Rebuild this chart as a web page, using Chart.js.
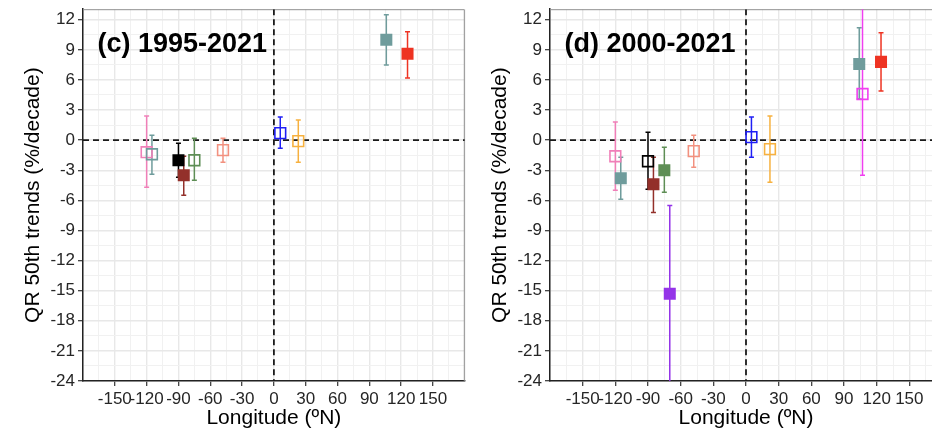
<!DOCTYPE html>
<html>
<head>
<meta charset="utf-8">
<script src="https://cdn.jsdelivr.net/npm/chart.js"></script>
<style>
  html, body { margin: 0; padding: 0; background: #fff; overflow: hidden; }
  #wrap { position: relative; width: 932px; height: 435px; overflow: hidden; }
  canvas { position: absolute; top: 0; }
  #panelC { left: 0; }
  #panelD { left: 474px; }
</style>
</head>
<body>
<div id="wrap">
  <canvas id="panelC" width="474" height="435"></canvas>
  <canvas id="panelD" width="480" height="435"></canvas>
</div>
<script>
// station colours
const PINK = '#f07fb8', TEAL = '#6f9c9c', BLACK = '#000000', BROWN = '#93302a',
      GREEN = '#5e8e55', SALMON = '#f2917f', BLUE = '#1f1ff5', ORANGE = '#f7b13f',
      RED = '#ee3322', PURPLE = '#9434e8', MAGENTA = '#f03ff0';

// (c) 1995-2021
const lonC   = [-120, -115, -90, -85, -75, -48, 6, 23, 106, 126];
const midC   = [-1.2, -1.4, -2.0, -3.5, -2.0, -1.0, 0.7, -0.1, 10.0, 8.6];
const loC    = [-4.7, -3.4, -3.7, -5.5, -4.0, -2.2, -0.8, -2.2, 7.5, 6.2];
const hiC    = [2.4, 0.5, -0.3, -1.6, 0.2, 0.2, 2.3, 2.0, 12.5, 10.8];
const fillC  = [false, false, true, true, false, false, false, false, true, true];
const colorC = [PINK, TEAL, BLACK, BROWN, GREEN, SALMON, BLUE, ORANGE, TEAL, RED];

// (d) 2000-2021
const lonD   = [-120, -115, -90, -85, -75, -48, -70, 5, 22, 104, 107, 124];
const midD   = [-1.6, -3.8, -2.1, -4.4, -3.0, -1.1, -15.3, 0.3, -0.9, 7.6, 4.6, 7.8];
const loD    = [-5.0, -5.9, -4.9, -7.2, -5.2, -2.7, -26.0, -1.7, -4.2, 4.1, -3.5, 4.9];
const hiD    = [1.8, -1.7, 0.8, -1.7, -0.7, 0.5, -6.5, 2.3, 2.4, 11.2, 14.0, 10.7];
const fillD  = [false, true, false, true, true, false, true, false, false, true, false, true];
const colorD = [PINK, TEAL, BLACK, BROWN, GREEN, SALMON, PURPLE, BLUE, ORANGE, TEAL, MAGENTA, RED];

// axis ticks (labelled ones); grid lines also run halfway between them
const xTicks = [-150, -120, -90, -60, -30, 0, 30, 60, 90, 120, 150];
const yTicks = [-24, -21, -18, -15, -12, -9, -6, -3, 0, 3, 6, 9, 12];

Chart.defaults.font.family = "'Liberation Sans', Arial, sans-serif";

const isXLabel = v => xTicks.includes(v);
const isYLabel = v => yTicks.some(t => Math.abs(t - v) < 1e-6);

const yGrid = [];
for (let v = -24; v <= 12.001; v += 1.5) yGrid.push({ value: Math.round(v * 10) / 10 });
const xGrid = [];
for (let v = -180; v <= 180; v += 15) xGrid.push({ value: v });

// zero lines, error bars, panel frame
const errorBars = {
  id: 'errorBars',
  beforeDatasetsDraw(chart) {
    const { ctx, chartArea: a, scales: { x, y } } = chart;
    const ds = chart.data.datasets[0];
    ctx.save();
    ctx.strokeStyle = '#8f8f8f';
    ctx.lineWidth = 1;
    ctx.beginPath();
    ctx.moveTo(a.left, a.top + 0.5); ctx.lineTo(a.right - 0.5, a.top + 0.5);
    ctx.lineTo(a.right - 0.5, a.bottom);
    ctx.stroke();

    ctx.beginPath();
    ctx.rect(a.left, a.top, a.right - a.left, a.bottom - a.top);
    ctx.clip();

    ctx.setLineDash([6, 4]);
    ctx.lineWidth = 1.8;
    ctx.strokeStyle = '#1a1a1a';
    ctx.beginPath();
    const y0 = y.getPixelForValue(0), x0 = x.getPixelForValue(0);
    ctx.moveTo(a.left, y0); ctx.lineTo(a.right, y0);
    ctx.moveTo(x0, a.top); ctx.lineTo(x0, a.bottom);
    ctx.stroke();
    ctx.setLineDash([]);

    ctx.lineWidth = 1.5;
    ds.data.forEach((p, i) => {
      const px = x.getPixelForValue(p.x);
      const top = y.getPixelForValue(ds.hi[i]);
      const bot = y.getPixelForValue(ds.lo[i]);
      ctx.strokeStyle = ds.colors[i];
      ctx.beginPath();
      ctx.moveTo(px, top); ctx.lineTo(px, bot);
      ctx.moveTo(px - 2.5, top); ctx.lineTo(px + 2.5, top);
      ctx.moveTo(px - 2.5, bot); ctx.lineTo(px + 2.5, bot);
      ctx.stroke();
    });
    ctx.restore();
  },
  afterDatasetsDraw(chart) {
    const { ctx, chartArea: a } = chart;
    ctx.save();
    ctx.font = "bold 27px 'Liberation Sans', Arial, sans-serif";
    ctx.fillStyle = '#000';
    ctx.textBaseline = 'alphabetic';
    ctx.fillText(chart.data.datasets[0].label, a.left + 14.5, a.top + 43);
    ctx.restore();
  }
};

function makePanel(id, label, lon, mid, lo, hi, fill, colors, yWidth, titlePad, padRight) {
  new Chart(document.getElementById(id), {
    type: 'scatter',
    data: {
      datasets: [{
        label: label,
        data: lon.map((v, i) => ({ x: v, y: mid[i] })),
        lo: lo, hi: hi, colors: colors,
        pointStyle: 'rect',
        pointRadius: fill.map(f => f ? 8.5 : 7.6),
        pointBorderWidth: fill.map(f => f ? 0 : 1.6),
        pointBackgroundColor: colors.map((c, i) => fill[i] ? c : 'rgba(0,0,0,0)'),
        pointBorderColor: colors,
        showLine: false
      }]
    },
    options: {
      responsive: false,
      animation: false,
      events: [],
      layout: { padding: { left: 0, top: 7, right: padRight, bottom: 0 } },
      plugins: { legend: { display: false }, tooltip: { enabled: false } },
      scales: {
        x: {
          type: 'linear', min: -180, max: 180,
          afterBuildTicks: s => { s.ticks = xGrid.map(t => ({ value: t.value })); },
          ticks: {
            autoSkip: false, maxRotation: 0, minRotation: 0,
            padding: 3, color: '#262626', font: { size: 17 },
            callback: v => isXLabel(v) ? String(v) : ''
          },
          grid: {
            color: c => c.tick && c.tick.value % 30 === 0 ? '#e8e8e8' : '#f1f1f1',
            lineWidth: c => c.tick && c.tick.value % 30 === 0 ? 1.4 : 1,
            tickLength: 5, tickWidth: 1.2,
            tickColor: c => c.tick && isXLabel(c.tick.value) ? '#333' : 'rgba(0,0,0,0)'
          },
          border: { color: '#222', width: 1.5 },
          title: {
            display: true, text: 'Longitude (ºN)', color: '#000',
            font: { size: 21 }, padding: { top: 0, bottom: 4 }
          },
          afterFit: s => { s.height = 54; s.paddingLeft = 0; s.paddingRight = 0; }
        },
        y: {
          type: 'linear', min: -24, max: 13.05,
          afterBuildTicks: s => { s.ticks = yGrid.map(t => ({ value: t.value })); },
          ticks: {
            autoSkip: false, padding: 3,
            color: '#262626', font: { size: 17 },
            callback: v => isYLabel(v) ? String(Math.round(v)) : ''
          },
          grid: {
            color: c => c.tick && isYLabel(c.tick.value) ? '#e8e8e8' : '#f1f1f1',
            lineWidth: c => c.tick && isYLabel(c.tick.value) ? 1.4 : 1,
            tickLength: 5, tickWidth: 1.2,
            tickColor: c => c.tick && isYLabel(c.tick.value) ? '#333' : 'rgba(0,0,0,0)'
          },
          border: { color: '#222', width: 1.5 },
          title: {
            display: true, text: 'QR 50th trends (%/decade)', color: '#000',
            font: { size: 21 }, padding: { top: titlePad, bottom: 0 }
          },
          afterFit: s => { s.width = yWidth; s.paddingTop = 0; s.paddingBottom = 0; }
        }
      }
    },
    plugins: [errorBars]
  });
}

makePanel('panelC', '(c) 1995-2021', lonC, midC, loC, hiC, fillC, colorC, 83, 20.5, 1);
makePanel('panelD', '(d) 2000-2021', lonD, midD, loD, hiD, fillD, colorD, 76, 13.5, 12);
</script>
</body>
</html>
